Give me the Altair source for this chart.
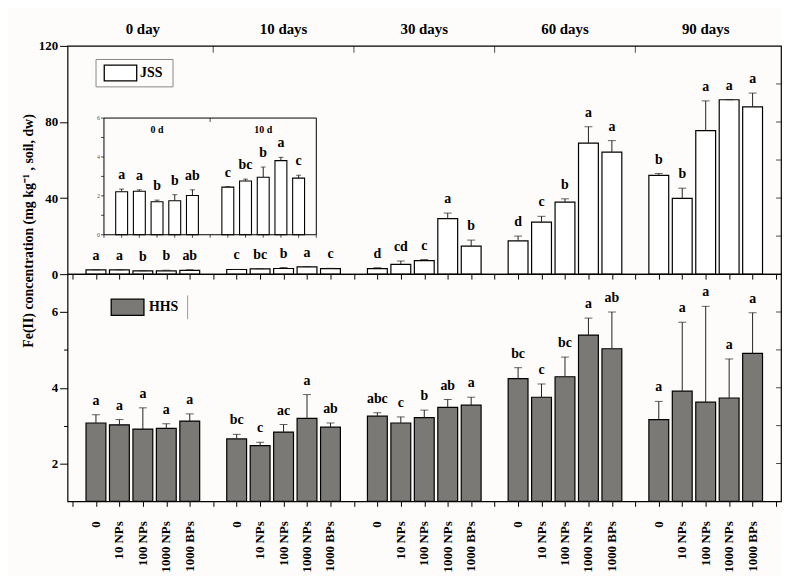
import altair as alt
import pandas as pd

FONT = "Liberation Serif"

days = ["0 day", "10 days", "30 days", "60 days", "90 days"]
inset_days = ["0 d", "10 d"]
treatments = ["0", "10 NPs", "100 NPs", "1000 NPs", "1000 BPs"]

jss_mean = [2.21, 2.24, 1.70, 1.75, 2.02,
            2.45, 2.76, 2.96, 3.81, 2.91,
            2.9, 5.1, 7.1, 29.2, 14.7,
            17.5, 27.3, 37.9, 68.9, 64.2,
            51.9, 39.8, 75.5, 91.7, 87.9]
jss_err = [0.14, 0.07, 0.08, 0.31, 0.29,
           0.03, 0.10, 0.52, 0.17, 0.15,
           0.5, 1.8, 0.6, 2.9, 3.2,
           2.5, 3.1, 1.7, 8.6, 6.0,
           1.0, 5.4, 15.6, 0.0, 7.3]
jss_sig = ["a", "a", "b", "b", "ab",
           "c", "bc", "b", "a", "c",
           "d", "cd", "c", "a", "b",
           "d", "c", "b", "a", "a",
           "b", "b", "a", "a", "a"]

hhs_mean = [3.07, 3.02, 2.91, 2.93, 3.12,
            2.65, 2.47, 2.83, 3.19, 2.96,
            3.25, 3.07, 3.21, 3.48, 3.54,
            4.24, 3.75, 4.29, 5.39, 5.03,
            3.16, 3.91, 3.62, 3.73, 4.91]
hhs_err = [0.22, 0.14, 0.56, 0.12, 0.19,
           0.12, 0.09, 0.20, 0.63, 0.11,
           0.09, 0.16, 0.20, 0.21, 0.21,
           0.29, 0.35, 0.52, 0.45, 0.97,
           0.48, 1.82, 2.53, 1.03, 1.07]
hhs_sig = ["a", "a", "a", "a", "a",
           "bc", "c", "ac", "a", "ab",
           "abc", "c", "b", "ab", "a",
           "bc", "c", "bc", "a", "ab",
           "a", "a", "a", "a", "a"]

top_ticks = [0, 20, 40, 60, 80, 100, 120]
bottom_ticks = [2, 3, 4, 5, 6]
inset_ticks = [0, 1, 2, 3, 4, 5, 6]
inset_labels = [0, 2, 4, 6]

SLOT = len(treatments) + 1
NG = len(days)
XMAX = SLOT * NG
W, H1, H2 = 719, 230, 229
TITLE = "Fe(II) concentration (mg kg\u207b\u00b9 , soil, dw)"
GRAY = "#7b7975"


def table(mean, err, sig, ngroups):
    rows = []
    for g in range(ngroups):
        for i, t in enumerate(treatments):
            k = g * len(treatments) + i
            rows.append({"pos": g * SLOT + i + 1, "treatment": t,
                         "mean": mean[k], "top": mean[k] + err[k], "sig": sig[k]})
    return pd.DataFrame(rows)


df_j = table(jss_mean, jss_err, jss_sig, NG)
df_h = table(hhs_mean, hhs_err, hhs_sig, NG)
df_i = table(jss_mean, jss_err, jss_sig, len(inset_days))

df_days = pd.DataFrame({"day": days, "center": [g * SLOT + SLOT / 2 for g in range(NG)]})
df_bounds = pd.DataFrame({"b": [g * SLOT for g in range(1, NG)]})
df_idays = pd.DataFrame({"day": inset_days, "center": [g * SLOT + SLOT / 2 for g in range(len(inset_days))]})

xs = alt.Scale(domain=[0, XMAX], nice=False, zero=False)


def yaxis(values, every, title=None, **kw):
    return alt.Axis(values=values,
                    labelExpr="datum.value %% %d == 0 ? datum.label : ''" % every,
                    tickSize={"condition": {"test": "datum.value %% %d == 0" % every, "value": 8}, "value": 4},
                    tickColor="black", tickWidth=1, labelPadding=2,
                    labelFont=FONT, labelFontWeight="bold", labelFontSize=13, labelColor="black",
                    domain=False, grid=False, title=title, **kw)


xaxis = alt.Axis(values=list(range(XMAX + 1)), labels=False, tickSize=5, tickColor="black",
                 domain=False, grid=False, title=None)


def common_layers(df, yscale, yaxis_obj, fill, right_vals):
    base = alt.Chart(df)
    X = alt.X("pos:Q", scale=xs, axis=xaxis)
    bars_enc = dict(x=X, y=alt.Y("mean:Q", scale=yscale, axis=yaxis_obj))
    if yscale.domain[0] != 0:
        bars_enc["y2"] = alt.datum(yscale.domain[0])
    bars = base.mark_bar(size=20, fill=fill, stroke="black", strokeWidth=1.2).encode(**bars_enc)
    whisk = base.mark_rule(color="#222", strokeWidth=1).encode(
        x=X, y="mean:Q", y2="top:Q")
    caps = base.mark_tick(orient="horizontal", size=8, thickness=1, color="#222").encode(
        x=X, y="top:Q")
    letters = base.mark_text(font=FONT, fontWeight="bold", fontSize=14, dy=-14,
                             baseline="middle", color="black").encode(
        x=X, y="top:Q", text="sig:N")
    right = alt.Chart(pd.DataFrame({"v": right_vals})).mark_tick(
        orient="horizontal", size=5, thickness=1, color="black", xOffset=2.5).encode(
        x=alt.X(datum=XMAX, axis=xaxis), y="v:Q")
    return [bars, whisk, caps, letters, right]


# ---------------- top panel (JSS) ----------------
y1 = alt.Scale(domain=[0, 120], nice=False)
yaxis_top = yaxis(top_ticks, 40, title=TITLE, titleFont=FONT, titleFontSize=14,
                  titleFontWeight="bold", titleColor="black", titleX=-39, titleY=186,
                  titleAlign="center", titleBaseline="middle", titleAngle=270)
main_layers = common_layers(df_j, y1, yaxis_top, "white", [20, 40, 60, 80, 100])

headers = alt.Chart(df_days).mark_text(font=FONT, fontWeight="bold", fontSize=15,
                                       baseline="middle", dy=-17, color="black").encode(
    x=alt.X("center:Q", axis=xaxis), y=alt.value(0), text="day:N")
bound_ticks = alt.Chart(df_bounds).mark_tick(orient="vertical", size=7, thickness=1,
                                             color="black", yOffset=3.5).encode(
    x=alt.X("b:Q", axis=xaxis), y=alt.value(0))

leg_df = pd.DataFrame({"soil": ["JSS"]})
leg_box = alt.Chart(leg_df).mark_rect(fill="transparent", stroke="#888", strokeWidth=1).encode(
    x=alt.value(28.7), x2=alt.value(106.3), y=alt.value(13.7), y2=alt.value(41.3))
leg_sw = alt.Chart(leg_df).mark_rect(fill="white", stroke="black", strokeWidth=1.3).encode(
    x=alt.value(37), x2=alt.value(69.7), y=alt.value(19.3), y2=alt.value(35.3))
leg_tx = alt.Chart(leg_df).mark_text(font=FONT, fontWeight="bold", fontSize=14, align="left",
                                     baseline="middle", color="black").encode(
    x=alt.value(73), y=alt.value(27.5), text="soil:N")

main_group = alt.layer(*main_layers, headers, bound_ticks, leg_box, leg_sw, leg_tx)

# inset
IX = [0, SLOT * len(inset_days)]
IY = [0, 6]
xi = alt.Scale(domain=IX, range=[31.7, 255.7], nice=False, zero=False)
yi = alt.Scale(domain=IY, range=[190.3, 72.7], nice=False)
ib = alt.Chart(df_i)
i_bars = ib.mark_bar(size=12, fill="white", stroke="black", strokeWidth=1.1).encode(
    x=alt.X("pos:Q", scale=xi, axis=None), y=alt.Y("mean:Q", scale=yi, axis=None))
i_whisk = ib.mark_rule(color="#222", strokeWidth=1).encode(x="pos:Q", y="mean:Q", y2="top:Q")
i_caps = ib.mark_tick(orient="horizontal", size=5, thickness=1, color="#222").encode(
    x="pos:Q", y="top:Q")
i_letters = ib.mark_text(font=FONT, fontWeight="bold", fontSize=14, dy=-14,
                         baseline="middle", color="black").encode(
    x="pos:Q", y="top:Q", text="sig:N")
i_frame = alt.Chart(pd.DataFrame({"x0": [IX[0]], "x1": [IX[1]], "y0": [IY[0]], "y1": [IY[1]]})).mark_rect(
    fill="transparent", stroke="black", strokeWidth=1).encode(
    x="x0:Q", x2="x1:Q", y="y0:Q", y2="y1:Q")
i_lticks = alt.Chart(pd.DataFrame({"v": inset_ticks})).mark_tick(
    orient="horizontal", size=3, thickness=1, color="black", xOffset=-1.5).encode(
    x=alt.datum(IX[0]), y="v:Q")
i_bticks = alt.Chart(pd.DataFrame({"p": list(range(IX[1] + 1))})).mark_tick(
    orient="vertical", size=3, thickness=1, color="black", yOffset=1.5).encode(
    x="p:Q", y=alt.datum(IY[0]))
i_tticks = alt.Chart(pd.DataFrame({"p": [SLOT]})).mark_tick(
    orient="vertical", size=4, thickness=1, color="black", yOffset=2).encode(
    x="p:Q", y=alt.datum(IY[1]))
i_tlabels = alt.Chart(pd.DataFrame({"v": inset_labels})).mark_text(
    font=FONT, fontSize=6, align="right", baseline="middle", dx=-4, color="#555").encode(
    x=alt.datum(IX[0]), y="v:Q", text="v:Q")
i_heads = alt.Chart(df_idays).mark_text(font=FONT, fontWeight="bold", fontSize=10,
                                        baseline="middle", dy=12, color="black").encode(
    x="center:Q", y=alt.datum(IY[1]), text="day:N")

inset_group = alt.layer(i_bars, i_whisk, i_caps, i_letters, i_frame, i_lticks, i_bticks,
                        i_tticks, i_tlabels, i_heads)

top = alt.layer(main_group, inset_group).resolve_scale(
    x="independent", y="independent").properties(width=W, height=H1)

# ---------------- bottom panel (HHS) ----------------
y2s = alt.Scale(domain=[1, 7], nice=False, zero=False)
yaxis_bot = yaxis(bottom_ticks, 2, title=None)
bot_layers = common_layers(df_h, y2s, yaxis_bot, GRAY, bottom_ticks)

xlabels = alt.Chart(df_h).mark_text(font=FONT, fontWeight="bold", fontSize=13, angle=270,
                                    align="right", baseline="middle", color="black").encode(
    x=alt.X("pos:Q", axis=xaxis), y=alt.value(H2 + 20), text="treatment:N")

leg2_df = pd.DataFrame({"soil": ["HHS"]})
leg2_sw = alt.Chart(leg2_df).mark_rect(fill=GRAY, stroke="black", strokeWidth=1.3).encode(
    x=alt.value(44), x2=alt.value(77), y=alt.value(25.2), y2=alt.value(41.5))
leg2_tx = alt.Chart(leg2_df).mark_text(font=FONT, fontWeight="bold", fontSize=14, align="left",
                                       baseline="middle", color="black").encode(
    x=alt.value(82), y=alt.value(33.5), text="soil:N")
leg2_ln = alt.Chart(leg2_df).mark_rule(color="#999", strokeWidth=1).encode(
    x=alt.value(121), y=alt.value(21.5), y2=alt.value(45.5))

bottom = alt.layer(*bot_layers, xlabels, leg2_sw, leg2_tx, leg2_ln).properties(width=W, height=H2)

chart = alt.vconcat(top, bottom, spacing=0, bounds="flush").properties(
    padding={"left": 13, "top": 11, "right": 0, "bottom": 0},
    background="#fdfcfa",
).configure_view(stroke="black", strokeWidth=1.2)

chart.save("out.html", embed_options={"renderer": "svg", "actions": False})
